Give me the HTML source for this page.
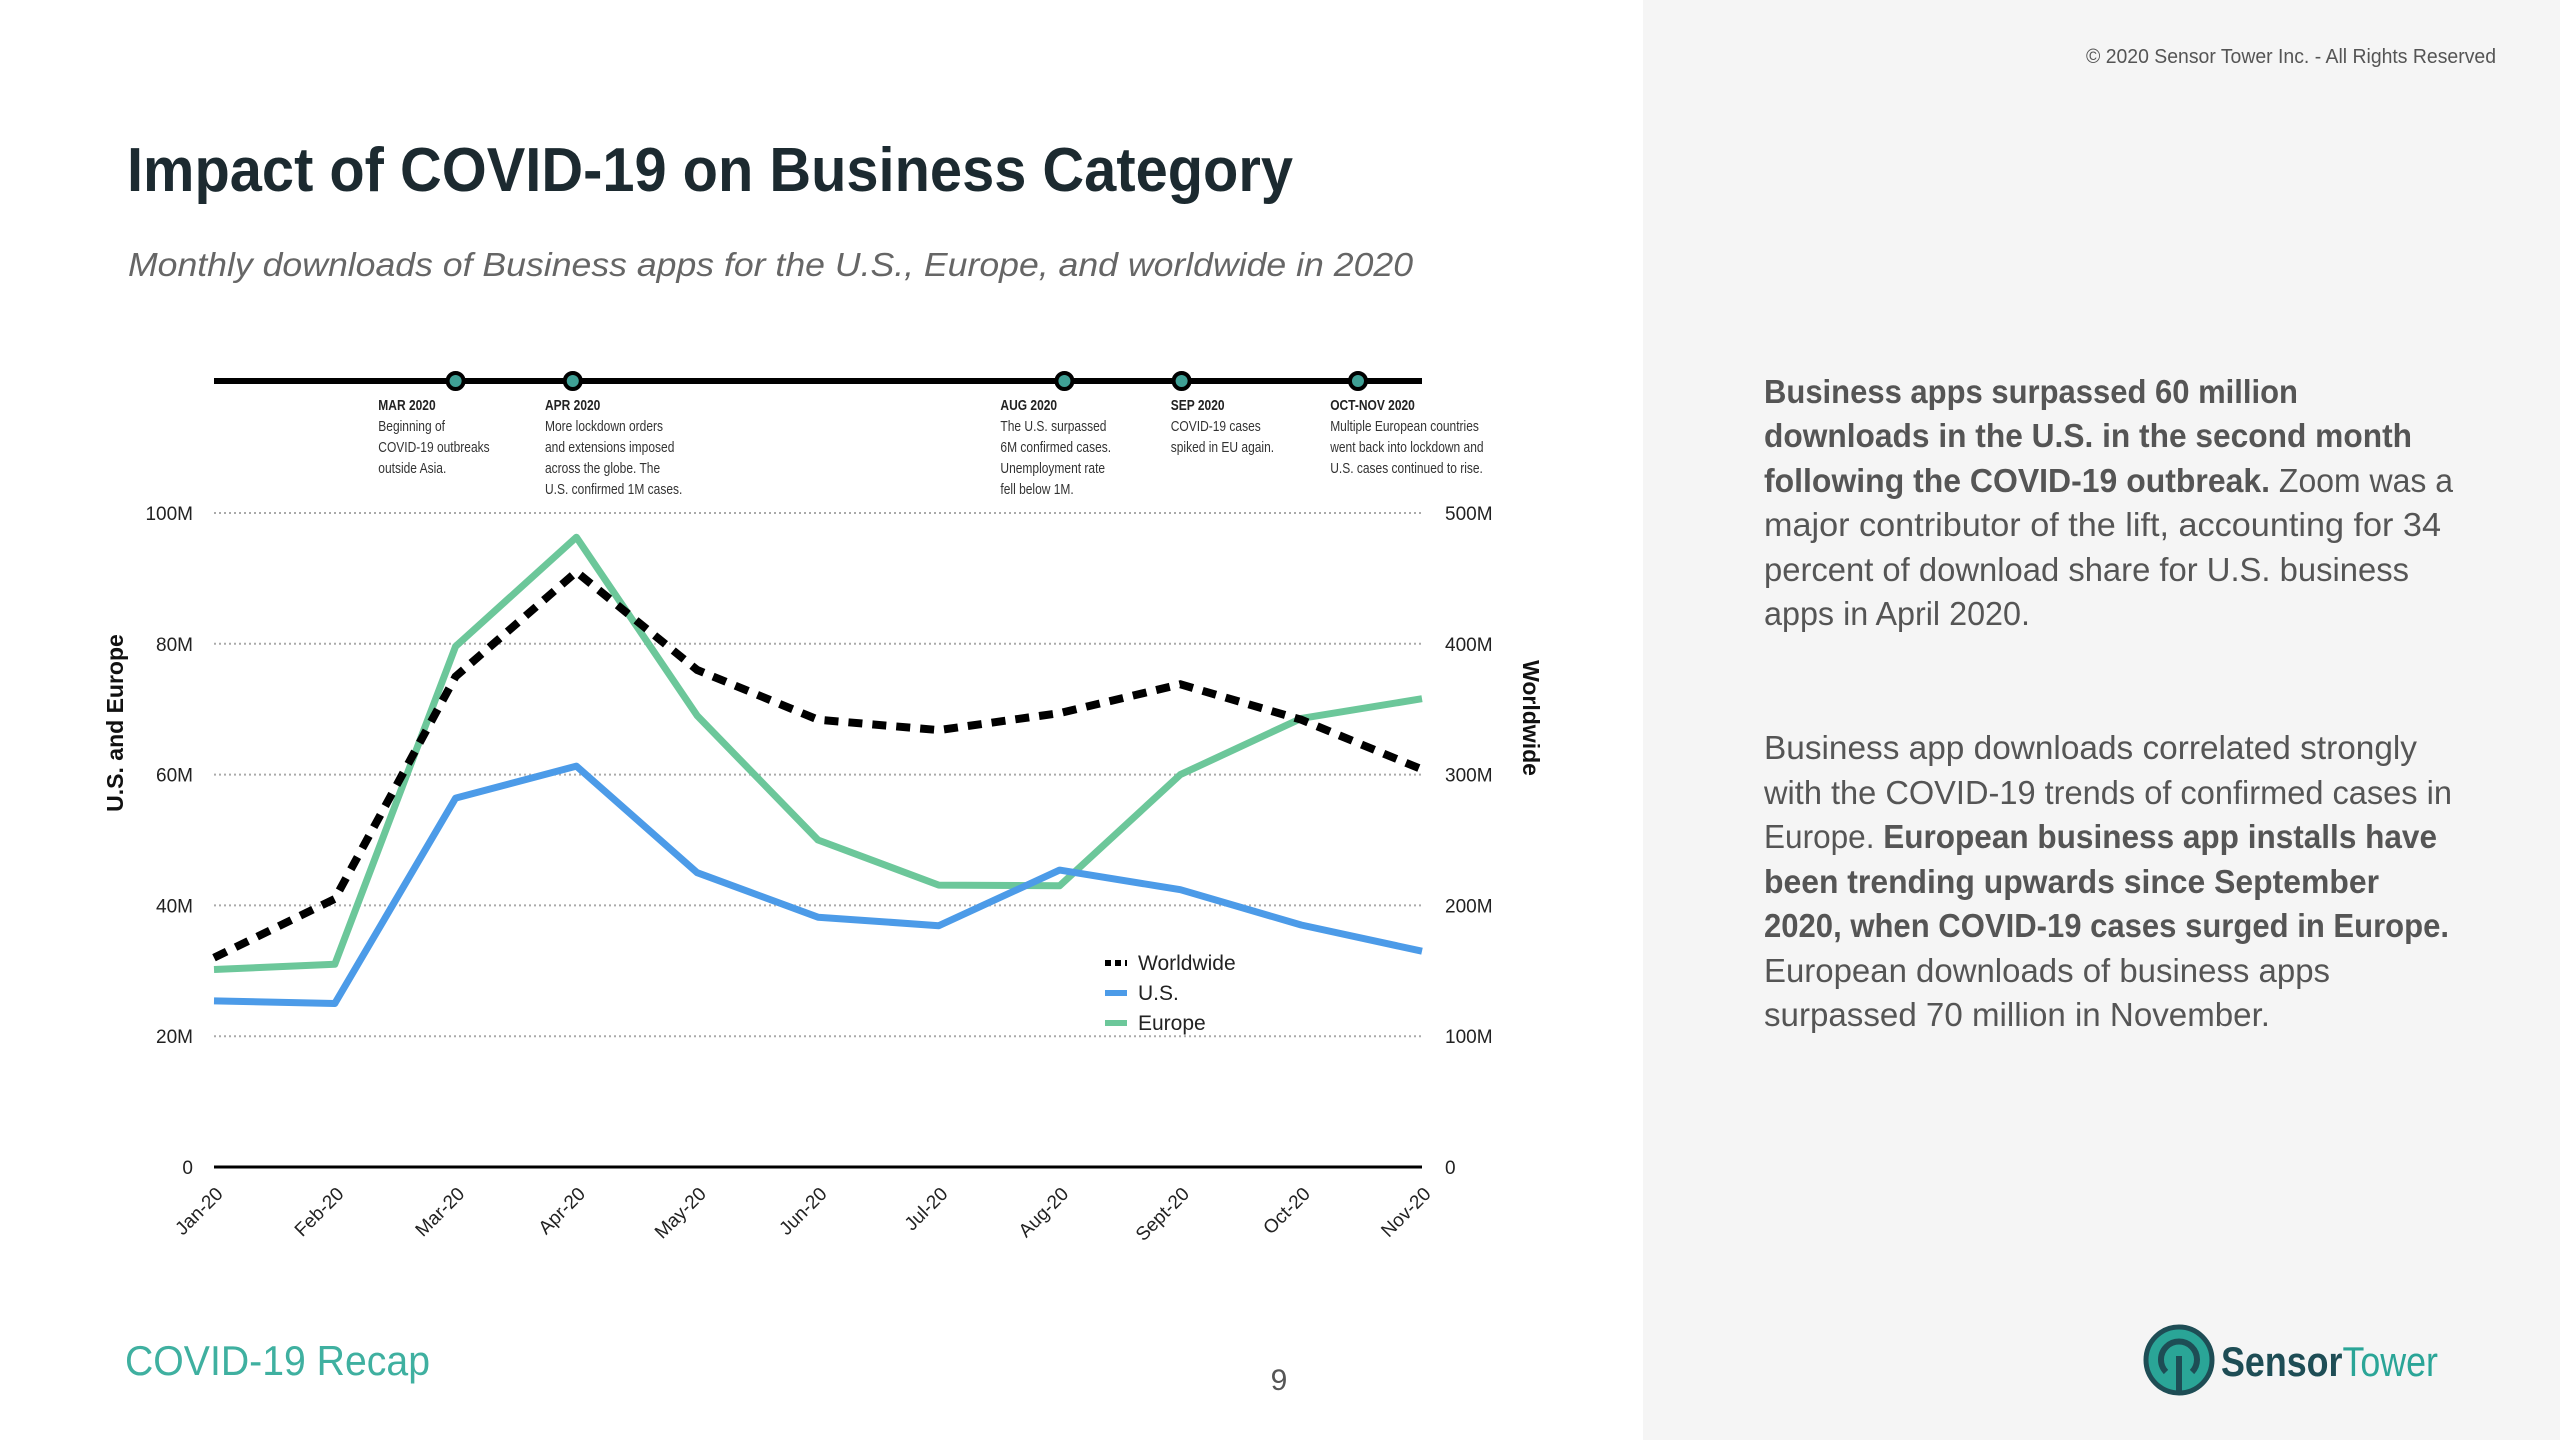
<!DOCTYPE html>
<html><head><meta charset="utf-8"><style>
html,body{margin:0;padding:0;background:#fff}
svg{display:block}
text{font-family:"Liberation Sans",sans-serif}
</style></head><body>
<svg id="root" width="2560" height="1440" viewBox="0 0 2560 1440" xmlns="http://www.w3.org/2000/svg">
<rect x="0" y="0" width="1643" height="1440" fill="#ffffff"/>
<rect x="1643" y="0" width="917" height="1440" fill="#f5f5f5"/>
<text x="2496" y="63" font-size="20" fill="#555" text-anchor="end" textLength="410" lengthAdjust="spacingAndGlyphs">© 2020 Sensor Tower Inc. - All Rights Reserved</text>
<text x="127" y="191" font-size="62" font-weight="bold" fill="#1c2a30" textLength="1166" lengthAdjust="spacingAndGlyphs">Impact of COVID-19 on Business Category</text>
<text x="128" y="276" font-size="33" font-style="italic" fill="#666" textLength="1285" lengthAdjust="spacingAndGlyphs">Monthly downloads of Business apps for the U.S., Europe, and worldwide in 2020</text>

<g font-size="33" fill="#555">
<text x="1764" y="403" textLength="534" lengthAdjust="spacingAndGlyphs" font-weight="bold">Business apps surpassed 60 million</text>
<text x="1764" y="447" textLength="648" lengthAdjust="spacingAndGlyphs" font-weight="bold">downloads in the U.S. in the second month</text>
<text x="1764" y="492" textLength="689" lengthAdjust="spacingAndGlyphs"><tspan font-weight="bold">following the COVID-19 outbreak.</tspan> Zoom was a</text>
<text x="1764" y="536" textLength="677" lengthAdjust="spacingAndGlyphs">major contributor of the lift, accounting for 34</text>
<text x="1764" y="581" textLength="645" lengthAdjust="spacingAndGlyphs">percent of download share for U.S. business</text>
<text x="1764" y="625" textLength="266" lengthAdjust="spacingAndGlyphs">apps in April 2020.</text>
<text x="1764" y="759" textLength="653" lengthAdjust="spacingAndGlyphs">Business app downloads correlated strongly</text>
<text x="1764" y="804" textLength="688" lengthAdjust="spacingAndGlyphs">with the COVID-19 trends of confirmed cases in</text>
<text x="1764" y="848" textLength="673" lengthAdjust="spacingAndGlyphs">Europe. <tspan font-weight="bold">European business app installs have</tspan></text>
<text x="1764" y="893" textLength="615" lengthAdjust="spacingAndGlyphs" font-weight="bold">been trending upwards since September</text>
<text x="1764" y="937" textLength="685" lengthAdjust="spacingAndGlyphs" font-weight="bold">2020, when COVID-19 cases surged in Europe.</text>
<text x="1764" y="982" textLength="566" lengthAdjust="spacingAndGlyphs">European downloads of business apps</text>
<text x="1764" y="1026" textLength="506" lengthAdjust="spacingAndGlyphs">surpassed 70 million in November.</text>
</g>

<text x="125" y="1375" font-size="42" fill="#3fb0a0" textLength="305" lengthAdjust="spacingAndGlyphs">COVID-19 Recap</text>
<text x="1279" y="1390" font-size="30" fill="#555" text-anchor="middle">9</text>
<g>
<circle cx="2179" cy="1360" r="33" fill="#2aa597" stroke="#1e4d55" stroke-width="5"/>
<path d="M2166 1372 A18 18 0 1 1 2192 1372" fill="none" stroke="#1e4d55" stroke-width="6"/>
<line x1="2179" y1="1356" x2="2179" y2="1392" stroke="#1e4d55" stroke-width="6"/>
<text x="2221" y="1376" font-size="42" font-weight="bold" fill="#1e4d55" textLength="217" lengthAdjust="spacingAndGlyphs">Sensor<tspan font-weight="normal" fill="#2aa597">Tower</tspan></text>
</g>

<g id="timeline">
<line x1="214" y1="381" x2="1422" y2="381" stroke="#000" stroke-width="6"/>
</g>
<g id="chart"></g>
</svg>
<script>
const months = ["Jan-20","Feb-20","Mar-20","Apr-20","May-20","Jun-20","Jul-20","Aug-20","Sept-20","Oct-20","Nov-20"];
const usValues = [25.4,25.0,56.4,61.3,45.0,38.2,36.9,45.4,42.4,37.0,33.0];
const europeValues = [30.2,31.0,79.6,96.3,69.0,50.0,43.1,43.0,60.0,68.6,71.6];
const worldwideValues = [160,205,375,455,380,342,334,347,369,342,304];
const leftTicks = [0,20,40,60,80,100];
const leftTickLabels = ["0","20M","40M","60M","80M","100M"];
const rightTickLabels = ["0","100M","200M","300M","400M","500M"];
const eventMonths = [2.0,2.97,7.04,8.01,9.47];
const eventLabelMonths = [1.36,2.74,6.51,7.92,9.24];
const eventTitles = ["MAR 2020","APR 2020","AUG 2020","SEP 2020","OCT-NOV 2020"];
const eventTexts = [
 ["Beginning of","COVID-19 outbreaks","outside Asia."],
 ["More lockdown orders","and extensions imposed","across the globe. The","U.S. confirmed 1M cases."],
 ["The U.S. surpassed","6M confirmed cases.","Unemployment rate","fell below 1M."],
 ["COVID-19 cases","spiked in EU again."],
 ["Multiple European countries","went back into lockdown and","U.S. cases continued to rise."]
];
const NS="http://www.w3.org/2000/svg";
const X0=214,X1=1422,Y0=1167,Y1=513;
function xScale(i){return X0+(X1-X0)*i/(months.length-1);}
function yLeft(v){return Y0-(Y0-Y1)*v/100;}
function yRight(v){return Y0-(Y0-Y1)*v/500;}
function mk(tag,attrs,parent){const e=document.createElementNS(NS,tag);for(const k in attrs)e.setAttribute(k,attrs[k]);parent.appendChild(e);return e;}
const chart=document.getElementById('chart');
const tl=document.getElementById('timeline');

eventMonths.forEach((m,i)=>{
  const cx=xScale(m);
  const c=mk('circle',{cx:cx,cy:381,r:8,fill:'#3fa095',stroke:'#000','stroke-width':4},tl);
  
  
  const lx=xScale(eventLabelMonths[i]);
  const g=mk('g',{transform:`translate(${lx} 0) scale(0.8 1)`},tl);
  
  
  const t=mk('text',{x:0,y:410,'font-size':15,'font-weight':'bold',fill:'#222'},g);
  t.textContent=eventTitles[i];
  eventTexts[i].forEach((ln,j)=>{
    const tt=mk('text',{x:0,y:431+j*21,'font-size':15,fill:'#333'},g);
    tt.textContent=ln;
  });
});

leftTicks.forEach((v,i)=>{
  const y=yLeft(v);
  if(v>0){
    const gl=mk('line',{x1:X0,y1:y,x2:X1,y2:y,stroke:'#aaa','stroke-width':2,'stroke-dasharray':'2 3'},chart);
    
    
  }
  const lt=mk('text',{x:193,y:y+7,'font-size':19,fill:'#222','text-anchor':'end'},chart);
  
  
  lt.textContent=leftTickLabels[i];
  const rt=mk('text',{x:1445,y:y+7,'font-size':19,fill:'#222'},chart);
  
  
  rt.textContent=rightTickLabels[i];
});
const ax=mk('line',{x1:X0,y1:Y0,x2:X1,y2:Y0,stroke:'#000','stroke-width':3},chart);



months.forEach((m,i)=>{
  const x=xScale(i)+10,y=Y0+28;
  const t=mk('text',{x:x,y:y,'font-size':19,fill:'#222','text-anchor':'end',transform:`rotate(-45 ${x} ${y})`},chart);
  
  
  t.textContent=m;
});

const lt=mk('text',{x:0,y:0,'font-size':23,'font-weight':'bold',fill:'#111','text-anchor':'middle',transform:'translate(123 723) rotate(-90)'},chart);


lt.textContent='U.S. and Europe';
const rtt=mk('text',{x:0,y:0,'font-size':23,'font-weight':'bold',fill:'#111','text-anchor':'middle',transform:'translate(1523 718) rotate(90)'},chart);


rtt.textContent='Worldwide';

function pts(vals,fy){return vals.map((v,i)=>xScale(i).toFixed(1)+','+fy(v).toFixed(1)).join(' ');}
const eu=mk('polyline',{points:pts(europeValues,yLeft),fill:'none',stroke:'#6cc79a','stroke-width':7,'stroke-linejoin':'round'},chart);


const us=mk('polyline',{points:pts(usValues,yLeft),fill:'none',stroke:'#4c9be8','stroke-width':7,'stroke-linejoin':'round'},chart);


const ww=mk('polyline',{points:pts(worldwideValues,yRight),fill:'none',stroke:'#000','stroke-width':8,'stroke-dasharray':'14 10'},chart);



const legNames=["Worldwide","U.S.","Europe"];
const legColors=["#000","#4c9be8","#6cc79a"];
legNames.forEach((n,i)=>{
  const y=963+i*30;
  const g=mk('g',{},chart);
  
  
  mk('line',{x1:1105,y1:y,x2:1127,y2:y,stroke:legColors[i],'stroke-width':6,'stroke-dasharray':i===0?'6 4':'none'},g);
  const t=mk('text',{x:1138,y:y+7,'font-size':21,fill:'#222'},g);
  t.textContent=n;
});
</script>
</body></html>
